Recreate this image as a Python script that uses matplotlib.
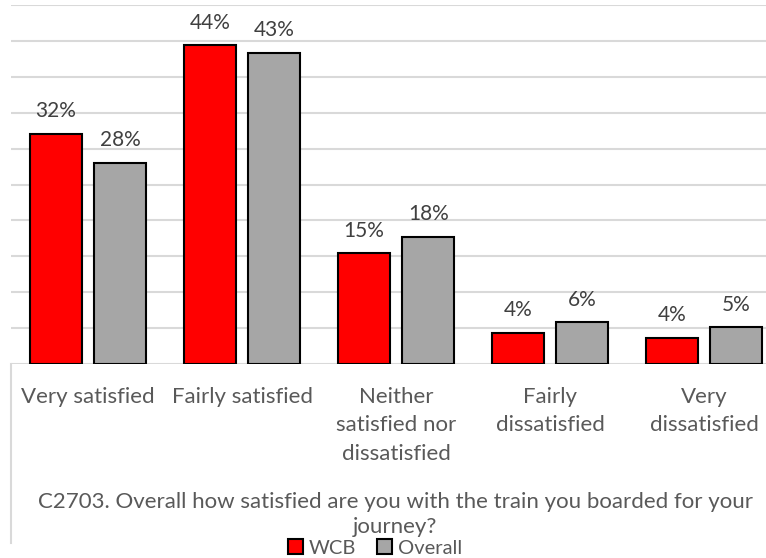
import matplotlib

matplotlib.use("Agg")
import matplotlib.pyplot as plt  # noqa: E402
import numpy as np  # noqa: E402
from matplotlib.lines import Line2D  # noqa: E402
from matplotlib.patches import Patch  # noqa: E402

categories = [
    "Very satisfied",
    "Fairly satisfied",
    "Neither\nsatisfied nor\ndissatisfied",
    "Fairly\ndissatisfied",
    "Very\ndissatisfied",
]
wcb = [32.1, 44.4, 15.4, 4.3, 3.6]
overall = [28.0, 43.3, 17.7, 5.8, 5.1]
series_names = ["WCB", "Overall"]

W, H = 766, 558
RED = "#ff0000"
GREY = "#a6a6a6"
TEXT = "#595959"
GRID = "#d9d9d9"

plt.rcParams["font.family"] = ["Lato", "DejaVu Sans"]

fig = plt.figure(figsize=(W / 100, H / 100), dpi=100)
ax = fig.add_axes([11.2 / W, 1 - 364 / H, 770 / W, 359 / H])

x = np.arange(len(categories))
bar_w = 0.337
offset = 0.209
bars_a = ax.bar(x - offset, wcb, bar_w, color=RED, edgecolor="black", linewidth=1.5, zorder=3)
bars_b = ax.bar(x + offset, overall, bar_w, color=GREY, edgecolor="black", linewidth=1.5, zorder=3)

for bars, vals in ((bars_a, wcb), (bars_b, overall)):
    for rect, v in zip(bars, vals):
        ax.annotate(f"{v:.0f}%", (rect.get_x() + rect.get_width() / 2, v),
                    xytext=(0, 12), textcoords="offset points",
                    ha="center", va="baseline", fontsize=15, color="#404040")

ax.set_xlim(-0.5, len(categories) - 0.5)
ax.set_ylim(0, 50)
ax.set_yticks(np.arange(0, 51, 5))
ax.yaxis.grid(True, color=GRID, linewidth=1.5, zorder=0)
ax.tick_params(axis="y", left=False, labelleft=False)
ax.set_xticks(x)
ax.set_xticklabels(categories, fontsize=16, color=TEXT, linespacing=1.52)
ax.tick_params(axis="x", length=0, pad=16.5)
for side in ("top", "right", "left", "bottom"):
    ax.spines[side].set_visible(False)

# thin border down the left of the chart area
fig.add_artist(Line2D([11 / W, 11 / W], [1 - 364 / H, 1 - 543 / H],
                      transform=fig.transFigure, color=GRID, linewidth=1.5))

fig.text(395 / W, 1 - 533 / H,
         "C2703. Overall how satisfied are you with the train you boarded for your\njourney?",
         ha="center", va="baseline", fontsize=16, color=TEXT, linespacing=1.29,
         multialignment="center")

handles = [Patch(facecolor=c, edgecolor="black", linewidth=1.5) for c in (RED, GREY)]
fig.legend(handles, series_names, loc="center", bbox_to_anchor=(375 / W, 1 - 548 / H),
           ncol=2, frameon=False, fontsize=14.5, handlelength=0.75, handleheight=0.75,
           handletextpad=0.3, columnspacing=1.0, borderpad=0, labelcolor=TEXT)

fig.savefig("out.png", dpi=100)
